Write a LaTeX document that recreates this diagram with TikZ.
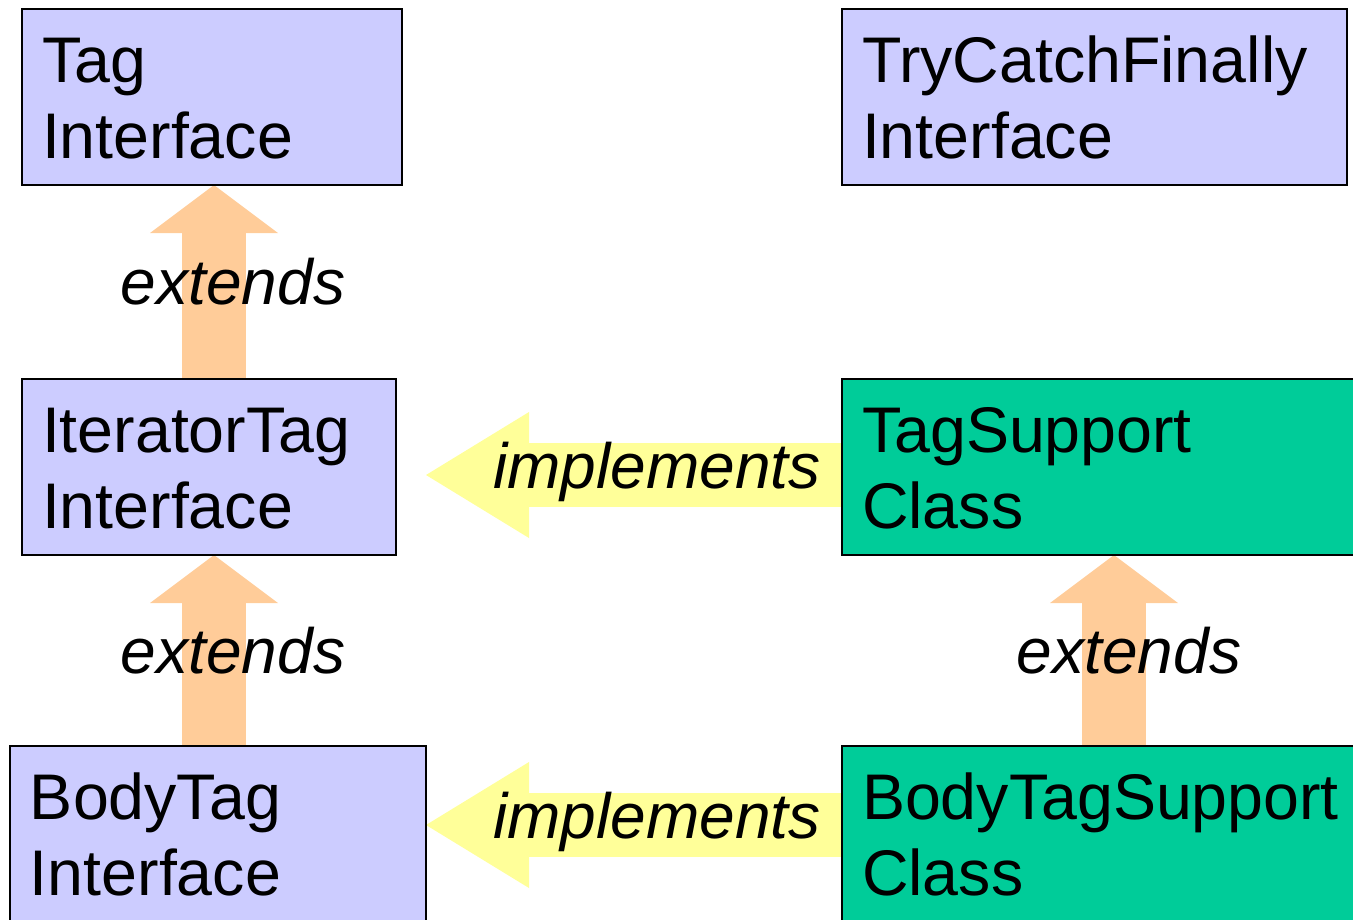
\documentclass[tikz,border=0pt]{standalone}
\usepackage{fontspec}
\setmainfont{Liberation Sans}
\usetikzlibrary{arrows.meta,backgrounds}

\definecolor{ifacefill}{HTML}{CCCCFF}
\definecolor{classfill}{HTML}{00CC99}
\definecolor{extendfill}{HTML}{FFCC99}
\definecolor{implfill}{HTML}{FFFF99}

\begin{document}
\begin{tikzpicture}[x=1pt,y=-1pt,
    box/.style={draw,line width=2pt,anchor=north west,outer sep=0pt,
      inner ysep=0pt,inner xsep=20pt,align=left,
      text height=73pt,text depth=103pt,font=\fontsize{64.5}{76}\selectfont},
    iface/.style={box,fill=ifacefill},
    cls/.style={box,fill=classfill,text width=504pt},
    extends/.style={line width=64pt,draw=extendfill,
      -{Triangle[length=48pt,width=128pt,line width=0pt]}},
    implements/.style={line width=64pt,draw=implfill,
      -{Triangle[length=103pt,width=126pt,line width=0pt]}},
    lbl/.style={font=\fontsize{64}{76}\selectfont\itshape}]

      \useasboundingbox (0,0) rectangle (1353,919);

      \node[iface,text width=340pt] (tag)  at (22,9)   {Tag\\Interface};
      \node[iface,text width=465pt] (tcf)  at (842,9)  {TryCatchFinally\\Interface};
      \node[iface,text width=334pt] (itag) at (22,379) {IteratorTag\\Interface};
      \node[cls]                    (ts)   at (842,379) {TagSupport\\Class};
      \node[iface,text width=376pt] (btag) at (10,746) {BodyTag\\Interface};
      \node[cls]                    (bts)  at (842,746) {BodyTagSupport\\Class};

      \begin{scope}[on background layer]
        \draw[extends] ([xshift=5pt]itag.north) -- ([xshift=2pt]tag.south)
          node[lbl,midway,xshift=19pt] {extends};
        \draw[extends] ([xshift=-4pt]btag.north) -- ([xshift=5pt]itag.south)
          node[lbl,midway,xshift=19pt] {extends};
        \draw[extends] (bts.north) -- (ts.south)
          node[lbl,midway,xshift=15pt] {extends};
        \draw[implements] ([yshift=-8pt]ts.west) -- ([xshift=30pt,yshift=-8pt]itag.east)
          node[lbl,midway,xshift=23pt,yshift=3pt] {implements};
        \draw[implements] ([yshift=9pt]bts.west) -- ([yshift=9pt]btag.east)
          node[lbl,midway,xshift=23pt,yshift=3pt] {implements};
      \end{scope}

    \end{tikzpicture}
\end{document}
